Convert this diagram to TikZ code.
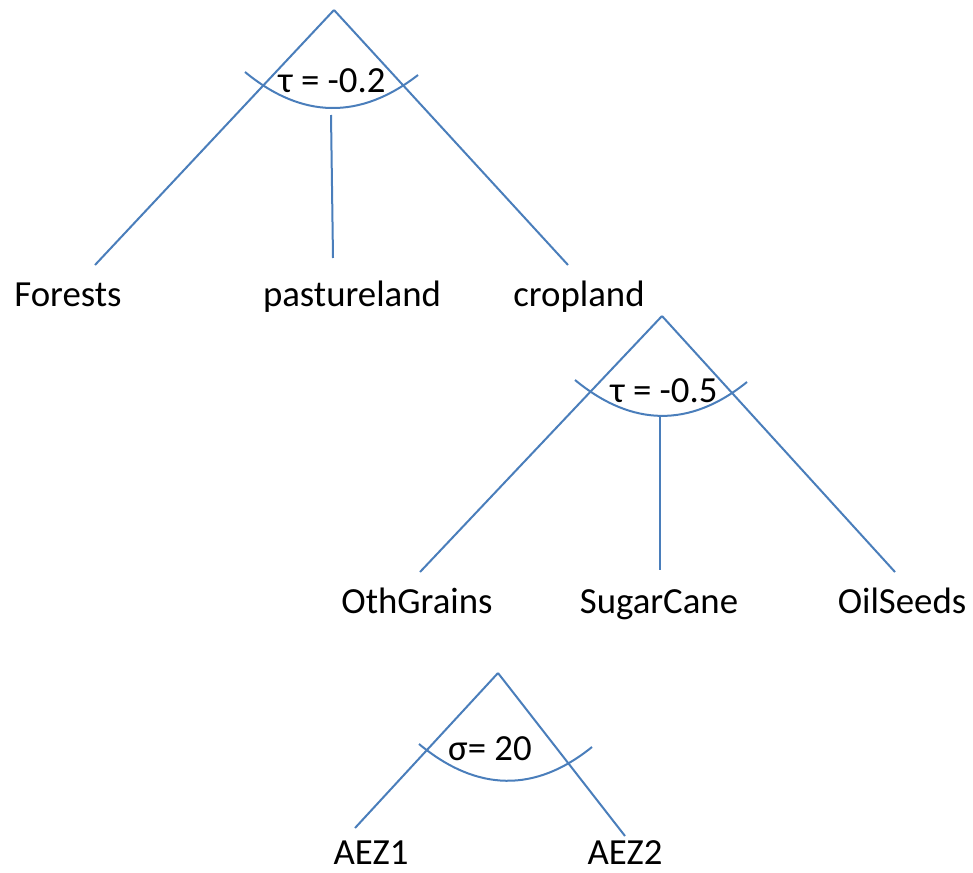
\documentclass[tikz,border=0pt]{standalone}
\usepackage{fontspec}
\setmainfont{Carlito}
\definecolor{linie}{HTML}{4A7EBB}
\begin{document}
\begin{tikzpicture}[x=0.5pt,y=-0.5pt,
  ast/.style={draw=linie, line width=1pt},
  lbl/.style={font=\fontsize{18.4}{21}\selectfont, inner sep=0pt, anchor=base}]

  \useasboundingbox (0,0) rectangle (973,872);

  % oberer Baum
  \coordinate (w1) at (334,10);
  \coordinate (f1) at (95,265);
  \coordinate (p1a) at (331,115);
  \coordinate (p1b) at (333,258);
  \coordinate (k1) at (568,265);
  \draw[ast] (w1) -- (f1);
  \draw[ast] (w1) -- (k1);
  \draw[ast] (p1a) -- (p1b);

  % Bogen oben
  \coordinate (b1l) at (245,72);
  \coordinate (b1r) at (418,75);
  \draw[ast] (b1l) .. controls (302,119) and (360,120) .. (b1r);
  \node[lbl] (tau1) at (332,92) {τ = -0.2};

  % Blätter oben
  \node[lbl] (forests) at (68,306) {Forests};
  \node[lbl] (pasture) at (352,306) {pastureland};
  \node[lbl] (crop) at (579,306) {cropland};

  % mittlerer Baum
  \coordinate (w2) at (662,316);
  \coordinate (o1) at (420,572);
  \coordinate (s1a) at (660,415);
  \coordinate (s1b) at (660,570);
  \coordinate (e1) at (895,572);
  \draw[ast] (w2) -- (o1);
  \draw[ast] (w2) -- (e1);
  \draw[ast] (s1a) -- (s1b);

  % Bogen Mitte
  \coordinate (b2l) at (575,380);
  \coordinate (b2r) at (747,382);
  \draw[ast] (b2l) .. controls (632,427) and (690,428) .. (b2r);
  \node[lbl] (tau2) at (664,402) {τ = -0.5};

  % Blätter Mitte
  \node[lbl] (oth) at (417,613) {OthGrains};
  \node[lbl] (sugar) at (659,613) {SugarCane};
  \node[lbl] (oil) at (902,613) {OilSeeds};

  % unterer Baum
  \coordinate (w3) at (498,673);
  \coordinate (z1) at (355,828);
  \coordinate (z2) at (625,836);
  \draw[ast] (w3) -- (z1);
  \draw[ast] (w3) -- (z2);

  % Bogen unten
  \coordinate (b3l) at (419,744);
  \coordinate (b3r) at (592,747);
  \draw[ast] (b3l) .. controls (477,792) and (535,793) .. (b3r);
  \node[lbl] (sigma) at (490,760) {σ= 20};

  % Blätter unten
  \node[lbl] (aez1) at (371,864) {AEZ1};
  \node[lbl] (aez2) at (625,864) {AEZ2};

\end{tikzpicture}
\end{document}
